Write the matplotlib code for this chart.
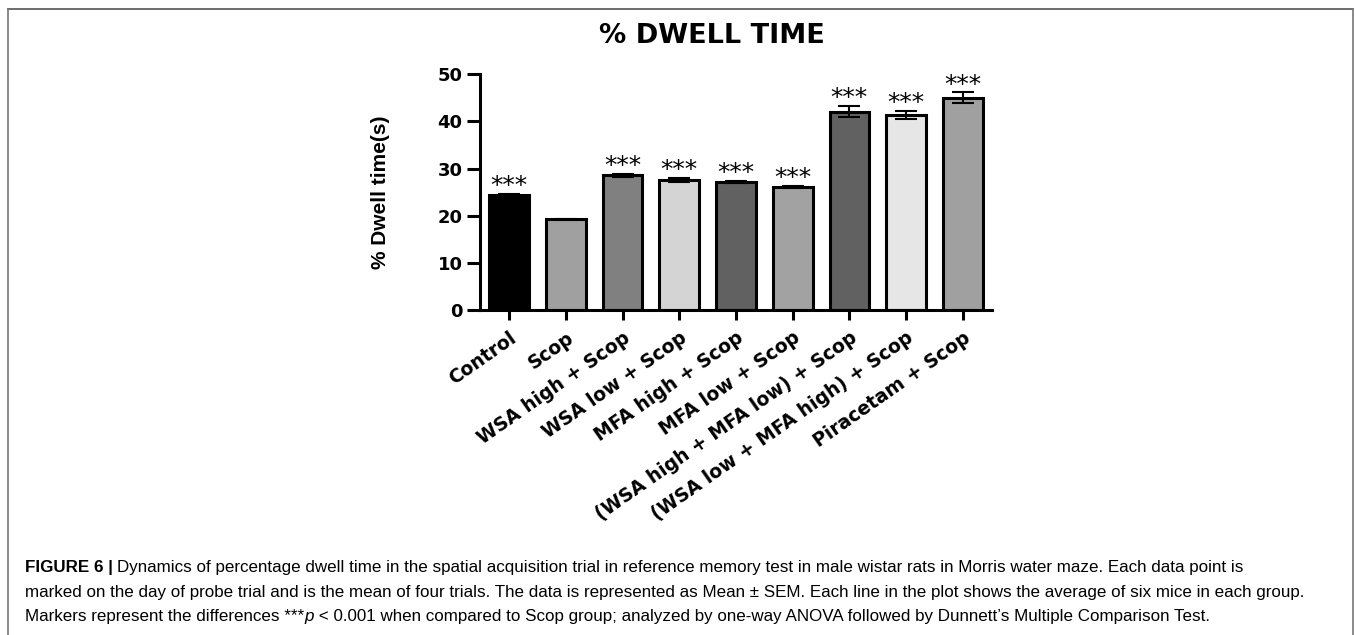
import matplotlib
matplotlib.use("Agg")
import matplotlib.pyplot as plt
from matplotlib.lines import Line2D
from matplotlib import font_manager as fm

categories = ["Control", "Scop", "WSA high + Scop", "WSA low + Scop",
              "MFA high + Scop", "MFA low + Scop",
              "(WSA high + MFA low) + Scop", "(WSA low + MFA high) + Scop",
              "Piracetam + Scop"]
means = [24.5, 19.3, 28.6, 27.6, 27.1, 26.1, 42.0, 41.4, 45.0]
sems = [0.2, 0.1, 0.3, 0.5, 0.2, 0.15, 1.15, 0.85, 1.1]
significant = [True, False, True, True, True, True, True, True, True]
bar_colors = ["#000000", "#a0a0a0", "#808080", "#d4d4d4", "#616161",
              "#a2a2a2", "#616161", "#e6e6e6", "#a0a0a0"]
yticks = [0, 10, 20, 30, 40, 50]

names = {f.name for f in fm.fontManager.ttflist}
narrow = "Liberation Sans Narrow" if "Liberation Sans Narrow" in names else "Liberation Sans"

W, H = 1356, 635
fig = plt.figure(figsize=(W / 100, H / 100), dpi=100)

def px(x, y):
    return x / W, 1 - y / H

# frame
for (x0, y0, x1, y1, c) in [(8, 9, 1353, 9, "#555555"), (8, 9, 8, 635, "#777777"),
                            (1353, 9, 1353, 635, "#777777")]:
    a, b = px(x0, y0)
    c2, d = px(x1, y1)
    fig.add_artist(Line2D([a, c2], [b, d], color=c, lw=1.2, transform=fig.transFigure))

ax_l, ax_r, ax_top, ax_bot = 480, 992, 74, 310.5
ax = fig.add_axes([ax_l / W, 1 - ax_bot / H, (ax_r - ax_l) / W, (ax_bot - ax_top) / H])
x = list(range(len(categories)))
ax.bar(x, means, width=0.7, color=bar_colors, edgecolor="black", linewidth=2.2, zorder=2)
ax.errorbar(x, means, yerr=sems, fmt="none", ecolor="black", elinewidth=1.5,
            capsize=8, capthick=1.5, zorder=3)
for i, (m, s, sig) in enumerate(zip(means, sems, significant)):
    if sig:
        ax.text(i, m + s + 0.2, "***", ha="center", va="baseline", fontsize=18,
                family="DejaVu Sans", zorder=4)

ax.set_xlim(-0.517, len(categories) - 1 + 0.517)
ax.set_ylim(0, 50)
ax.set_yticks(yticks)
ax.set_yticklabels([str(t) for t in yticks], fontsize=13, fontweight="bold", family="DejaVu Sans")
ax.set_xticks(x)
ax.set_xticklabels(categories, rotation=35, ha="right", va="top", rotation_mode="anchor",
                   fontsize=13.5, fontweight="bold", family="DejaVu Sans")
for sp in ["top", "right"]:
    ax.spines[sp].set_visible(False)
for sp in ["left", "bottom"]:
    ax.spines[sp].set_linewidth(2.2)
ax.tick_params(axis="y", length=9.5, width=2.2, pad=3)
ax.tick_params(axis="x", length=7.5, width=2.2, pad=5)

fig.text(*px(712, 36), "% DWELL TIME", ha="center", va="center", fontsize=19.5,
         fontweight="bold", family="DejaVu Sans")
fig.text(*px(380, 192), "% Dwell time(s)", rotation=90, ha="center", va="center",
         fontsize=15, fontweight="bold", family="Liberation Sans")

# caption
fig.canvas.draw()
renderer = fig.canvas.get_renderer()
lines = [
    [("FIGURE 6 |", "bold", "normal"),
     ("Dynamics of percentage dwell time in the spatial acquisition trial in reference memory test in male wistar rats in Morris water maze. Each data point is", "normal", "normal")],
    [("marked on the day of probe trial and is the mean of four trials. The data is represented as Mean \u00b1 SEM. Each line in the plot shows the average of six mice in each group.", "normal", "normal")],
    [("Markers represent the differences ***", "normal", "normal"), ("p", "normal", "italic"),
     (" < 0.001 when compared to Scop group; analyzed by one-way ANOVA followed by Dunnett\u2019s Multiple Comparison Test.", "normal", "normal")],
]
probe = fig.text(0, 0, lines[1][0][0], fontsize=10, family=[narrow, "DejaVu Sans"])
wprobe = probe.get_window_extent(renderer).width
probe.remove()
cap_fs = 10 * (1278 / wprobe)
baselines = [572, 597, 621]
for segs, yb in zip(lines, baselines):
    xc = 25
    for txt, wt, st in segs:
        t = fig.text(xc / W, 1 - yb / H, txt, fontsize=cap_fs, fontweight=wt, fontstyle=st,
                     family=[narrow, "DejaVu Sans"], ha="left", va="baseline")
        xc += t.get_window_extent(renderer).width * (100 / fig.dpi)
        if wt == "bold":
            xc += 4

fig.savefig("out.png", dpi=100)
